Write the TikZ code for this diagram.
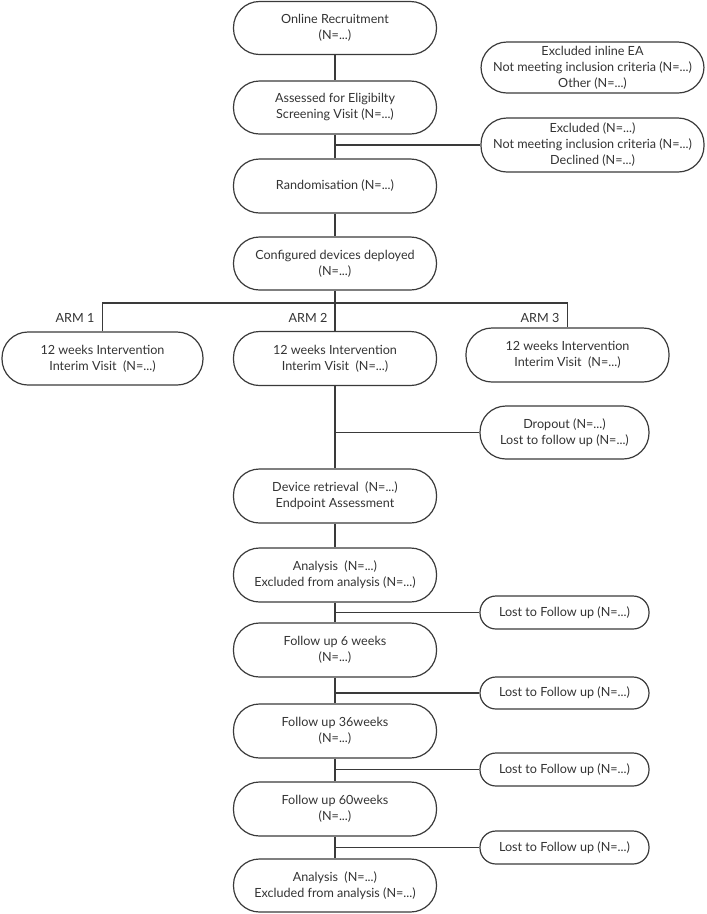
\documentclass[tikz,border=0pt]{standalone}
\usepackage{fontspec}
\setmainfont{Lato}
\begin{document}
\begin{tikzpicture}[x=1pt,y=-1pt,
  lc/.style={line width=1.2pt,draw=linecol},
  bigbox/.style={lc,rectangle,rounded corners=26pt,align=center,text=textcol,
    font=\fontsize{12.6}{16}\selectfont,inner sep=0pt,minimum width=203pt,minimum height=53pt},
  sidebox/.style={bigbox,minimum width=223pt},
  armbox/.style={bigbox,minimum width=201pt},
  lostbox/.style={bigbox,rounded corners=16pt,minimum width=169pt,minimum height=33pt},
  armlbl/.style={text=textcol,font=\fontsize{12.6}{16}\selectfont,inner sep=0pt},
  conn/.style={lc}]
\definecolor{linecol}{HTML}{3A3A3A}
\definecolor{textcol}{HTML}{333333}
\useasboundingbox (0,0) rectangle (707,914);

\node[bigbox] (rec) at (335,28) {Online Recruitment\\(N=...)};
\node[bigbox] (ass) at (335,107.5) {Assessed for Eligibilty\\Screening Visit (N=...)};
\node[bigbox,minimum height=54pt] (rnd) at (335,186) {Randomisation (N=...)};
\node[bigbox] (cfg) at (335,263.5) {Configured devices deployed\\(N=...)};

\node[sidebox,minimum height=51pt] (exc1) at (592.5,67.5) {Excluded inline EA\\Not meeting inclusion criteria (N=...)\\Other (N=...)};
\node[sidebox,minimum height=54pt] (exc2) at (592.5,145) {Excluded (N=...)\\Not meeting inclusion criteria (N=...)\\Declined (N=...)};

\node[armbox] (arm1) at (102.5,358.5) {12 weeks Intervention\\Interim Visit~ (N=...)};
\node[bigbox,minimum height=54pt] (arm2) at (335,358.5) {12 weeks Intervention\\Interim Visit~ (N=...)};
\node[bigbox,minimum height=54pt] (arm3) at (567.5,355) {12 weeks Intervention\\Interim Visit~ (N=...)};

\node[armlbl] (l1) at (75,318) {ARM 1};
\node[armlbl] (l2) at (308,318) {ARM 2};
\node[armlbl] (l3) at (540,318) {ARM 3};

\node[lostbox,minimum height=53pt,rounded corners=26pt] (drop) at (564.5,432.5) {Dropout (N=...)\\Lost to follow up (N=...)};
\node[bigbox,minimum height=54pt] (dev) at (335,496) {Device retrieval~ (N=...)\\Endpoint Assessment};
\node[bigbox,minimum height=54pt] (ana1) at (335,575) {Analysis~ (N=...)\\Excluded from analysis (N=...)};
\node[lostbox] (lost1) at (564.5,612.5) {Lost to Follow up (N=...)};
\node[bigbox,minimum height=54pt] (fu6) at (335,650) {Follow up 6 weeks\\(N=...)};
\node[lostbox,minimum height=32pt] (lost2) at (564.5,693) {Lost to Follow up (N=...)};
\node[bigbox,minimum height=54pt] (fu36) at (335,731) {Follow up 36weeks\\(N=...)};
\node[lostbox] (lost3) at (564.5,769.5) {Lost to Follow up (N=...)};
\node[bigbox,minimum height=54pt] (fu60) at (335,809) {Follow up 60weeks\\(N=...)};
\node[lostbox] (lost4) at (564.5,847.5) {Lost to Follow up (N=...)};
\node[bigbox] (ana2) at (335,885.5) {Analysis~ (N=...)\\Excluded from analysis (N=...)};

\coordinate (split) at (335,303);
\draw[conn] (rec) -- (ass);
\draw[conn] (ass) -- (rnd);
\draw[conn] (ass.south |- exc2.west) -- (exc2.west);
\draw[conn] (rnd) -- (cfg);
\draw[conn] (cfg.south) -- (split);
\draw[conn] (arm1.north) -- (arm1.north |- split) -- (arm3.north |- split) -- (arm3.north);
\draw[conn] (split) -- (arm2.north);
\draw[conn] (arm2) -- (dev);
\draw[conn] (arm2.south |- drop.west) -- (drop.west);
\draw[conn] (dev) -- (ana1);
\draw[conn] (ana1) -- (fu6);
\draw[conn] (ana1.south |- lost1.west) -- (lost1.west);
\draw[conn] (fu6) -- (fu36);
\draw[conn] (fu6.south |- lost2.west) -- (lost2.west);
\draw[conn] (fu36) -- (fu60);
\draw[conn] (fu36.south |- lost3.west) -- (lost3.west);
\draw[conn] (fu60) -- (ana2);
\draw[conn] (fu60.south |- lost4.west) -- (lost4.west);
\end{tikzpicture}
\end{document}
